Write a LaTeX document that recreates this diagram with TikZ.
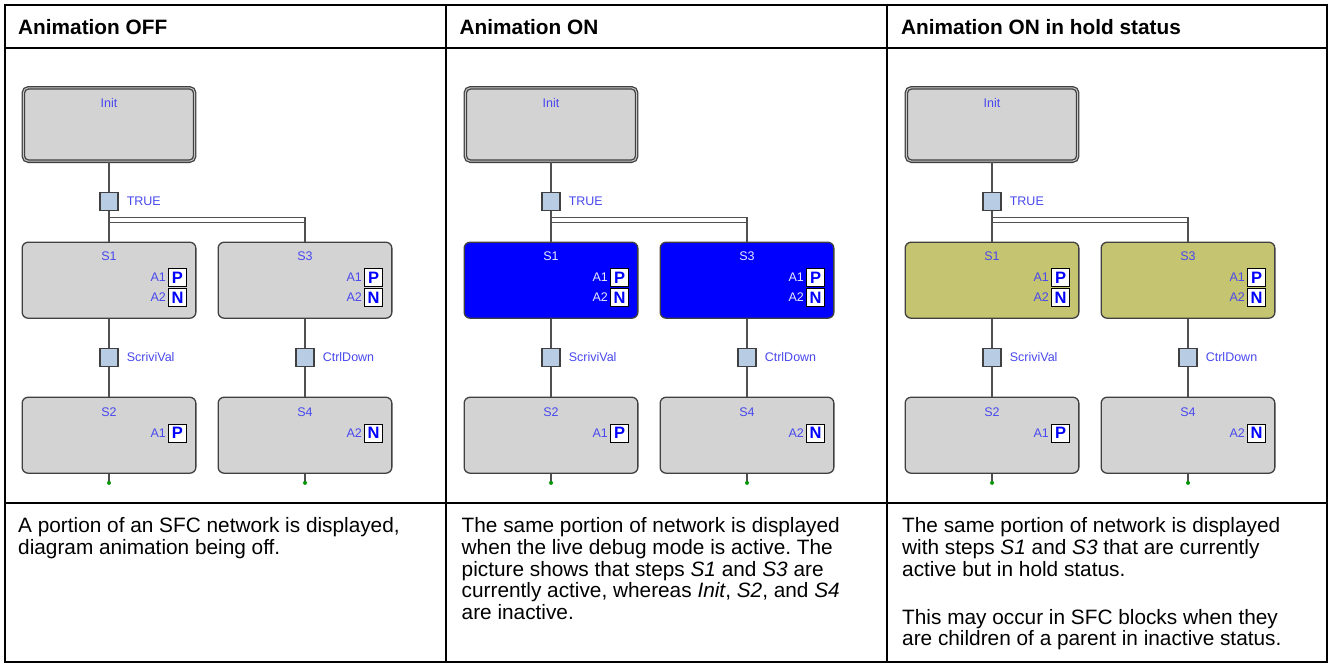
\documentclass[tikz,border=0pt]{standalone}
\usepackage{fontspec}
\setmainfont{Liberation Sans}
\usetikzlibrary{positioning}
\frenchspacing

\definecolor{stepgray}{RGB}{211,211,211}
\definecolor{stepline}{RGB}{64,64,64}
\definecolor{linegray}{RGB}{80,80,80}
\definecolor{transblue}{RGB}{184,204,228}
\definecolor{lblblue}{RGB}{72,72,238}
\definecolor{onblue}{RGB}{0,0,255}
\definecolor{onwhite}{RGB}{232,232,255}
\definecolor{holdolive}{RGB}{197,196,112}
\definecolor{dotgreen}{RGB}{0,150,0}

\begin{document}
\begin{tikzpicture}[
    x=1pt, y=-1pt,
    font=\fontsize{20.8}{21.7}\selectfont,
    frame/.style={draw=black, line width=2pt},
    head/.style={font=\fontsize{20.8}{21.7}\selectfont\bfseries, anchor=base west, inner sep=0},
    body/.style={anchor=north west, align=left, inner sep=0},
    stepbox/.style={rectangle, rounded corners=6pt, draw=stepline, line width=1.3pt, fill=stepgray, minimum width=173.7pt, minimum height=76pt},
    initstep/.style={stepbox, rounded corners=5pt, line width=1.3pt, double=gray!45, double distance=1pt, minimum width=171.3pt, minimum height=73.4pt},
    stepoff/.style={},
    stepon/.style={fill=onblue},
    stephold/.style={fill=holdolive},
    trans/.style={rectangle, draw=stepline, line width=1.2pt, fill=transblue, minimum size=18pt, inner sep=0},
    act/.style={rectangle, draw=black, line width=1pt, fill=white, minimum size=18pt, inner sep=0, text=blue, font=\fontsize{16.5}{16.5}\selectfont\bfseries},
    lbl/.style={font=\fontsize{12.5}{13}\selectfont, text=lblblue, inner sep=2pt},
    link/.style={draw=linegray, line width=1.7pt},
    thinlink/.style={draw=linegray, line width=1.1pt},
    enddot/.style={fill=dotgreen}
]
\useasboundingbox (0,0) rectangle (1330,664);

% Table frame
\draw[frame] (5,5) rectangle (1327,662);
\draw[frame] (5,47.5) -- (1327,47.5);
\draw[frame] (5,503) -- (1327,503);
\draw[frame] (446,5) -- (446,662);
\draw[frame] (887,5) -- (887,662);

% Headers
\node[head] (hoff) at (18,34) {Animation OFF};
\node[head] (hon) at (459.5,34) {Animation ON};
\node[head] (hhold) at (901,34) {Animation ON in hold status};

% SFC panels
\foreach \p/\dx/\act/\txt in {a/0/stepoff/lblblue, b/442/stepon/onwhite, c/883/stephold/lblblue} {
\begin{scope}[xshift=\dx pt]
    % steps and transitions
    \node[initstep] (init\p) at (109,124.5) {};
    \node[trans, below=30pt of init\p] (t1\p) {};
    \node[stepbox, \act, below=30.5pt of t1\p] (s1\p) {};
    \node[stepbox, \act, right=21pt of s1\p] (s3\p) {};
    \node[trans, below=29pt of s1\p] (t2\p) {};
    \node[trans, below=29pt of s3\p] (t3\p) {};
    \node[stepbox, below=29.5pt of t2\p] (s2\p) {};
    \node[stepbox, below=29.5pt of t3\p] (s4\p) {};

    % names
    \node[lbl] (ninit\p) at ([yshift=-15.7pt]init\p.north) {Init};
    \node[lbl, text=\txt] (ns1\p) at ([yshift=-15pt]s1\p.north) {S1};
    \node[lbl, text=\txt] (ns3\p) at ([yshift=-15pt]s3\p.north) {S3};
    \node[lbl] (ns2\p) at ([yshift=-16pt]s2\p.north) {S2};
    \node[lbl] (ns4\p) at ([yshift=-16pt]s4\p.north) {S4};
    \node[lbl, right=6pt of t1\p] (nt1\p) {TRUE};
    \node[lbl, right=6pt of t2\p] (nt2\p) {ScriviVal};
    \node[lbl, right=6pt of t3\p] (nt3\p) {CtrlDown};

    % actions
    \node[act] (p1\p) at ([xshift=-19pt,yshift=-36pt]s1\p.north east) {P};
    \node[act, below=1pt of p1\p] (q1\p) {N};
    \node[lbl, text=\txt, left=0pt of p1\p] (a11\p) {A1};
    \node[lbl, text=\txt, left=0pt of q1\p] (a12\p) {A2};
    \node[act] (p3\p) at ([xshift=-19pt,yshift=-36pt]s3\p.north east) {P};
    \node[act, below=1pt of p3\p] (q3\p) {N};
    \node[lbl, text=\txt, left=0pt of p3\p] (a31\p) {A1};
    \node[lbl, text=\txt, left=0pt of q3\p] (a32\p) {A2};
    \node[act] (p2\p) at ([xshift=-19pt,yshift=-36.5pt]s2\p.north east) {P};
    \node[lbl, left=0pt of p2\p] (a21\p) {A1};
    \node[act] (q4\p) at ([xshift=-19pt,yshift=-36.5pt]s4\p.north east) {N};
    \node[lbl, left=0pt of q4\p] (a42\p) {A2};

    % links
    \coordinate (d1\p) at ([yshift=-6pt]t1\p.south);
    \coordinate (d2\p) at ([yshift=-11pt]t1\p.south);
    \draw[link] (init\p) -- (t1\p);
    \draw[link] (t1\p) -- (s1\p);
    \draw[thinlink] (d1\p) -- (d1\p -| s3\p.north) -- (s3\p);
    \draw[thinlink] (d2\p) -- (d2\p -| s3\p.north);
    \draw[link] (s1\p) -- (t2\p);
    \draw[link] (t2\p) -- (s2\p);
    \draw[link] (s3\p) -- (t3\p);
    \draw[link] (t3\p) -- (s4\p);
    \coordinate (e2\p) at ([yshift=-9pt]s2\p.south);
    \coordinate (e4\p) at ([yshift=-9pt]s4\p.south);
    \draw[link] (s2\p) -- (e2\p);
    \draw[link] (s4\p) -- (e4\p);
    \fill[enddot] (e2\p) circle (2pt);
    \fill[enddot] (e4\p) circle (2pt);
\end{scope}
}

% Descriptions
\node[body] (toff) at (18,517.5) {A portion of an SFC network is displayed,\\
    diagram animation being off.};
\node[body] (ton) at (461.5,517.5) {The same portion of network is displayed\\
    when the live debug mode is active. The\\
    picture shows that steps \textit{S1} and \textit{S3} are\\
    currently active, whereas \textit{Init}, \textit{S2}, and \textit{S4}\\
    are inactive.};
\node[body] (thold) at (902,517.5) {The same portion of network is displayed\\
    with steps \textit{S1} and \textit{S3} that are currently\\
    active but in hold status.\\[26.3pt]
    This may occur in SFC blocks when they\\
    are children of a parent in inactive status.};

\end{tikzpicture}
\end{document}
